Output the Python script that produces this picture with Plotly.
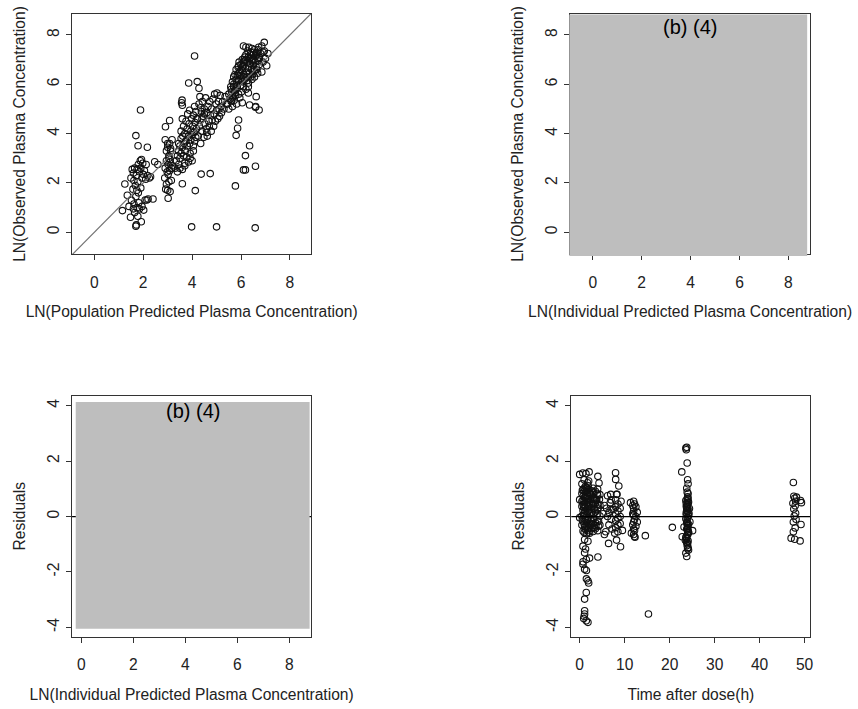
import plotly.graph_objects as go

# ---------------- Panel 1: LN(population predicted) vs LN(observed) ----------------
pred_a = [1.15,1.25,1.35,1.42,1.48,1.5,1.52,1.55,1.58,1.6,1.6,1.62,1.65,1.65,1.68,1.7,1.7,1.72,1.72,1.75,
          1.75,1.78,1.78,1.8,1.8,1.82,1.85,1.85,1.88,1.9,1.9,1.92,1.95,1.95,1.98,2.0,2.02,2.05,2.08,2.1,
          2.12,2.15,2.18,2.2,2.25,2.3,2.4,2.47,2.6,1.7,1.79,2.17,1.89,1.62,1.74,1.93]
obs_a = [0.88,1.96,1.5,1.05,0.61,2.2,1.3,2.55,1.75,0.95,2.4,1.15,2.6,0.8,1.9,0.25,1.45,2.3,0.3,1.0,
         2.55,2.05,0.65,1.6,2.75,1.2,2.45,0.95,2.9,1.8,2.6,0.43,2.2,1.05,2.8,2.35,0.9,2.5,1.31,2.15,
         2.75,1.31,2.3,1.35,2.2,2.25,1.35,2.86,2.75,3.92,3.51,3.45,4.96,2.1,1.7,2.95]

pred_b = [2.88,2.9,2.92,2.95,2.95,2.98,3.0,3.0,3.02,3.02,3.05,3.05,3.08,3.08,3.1,3.1,3.12,3.15,3.15,3.18,
          2.91,3.08,2.9,3.0,3.02,2.95,3.1,3.05,3.2,3.12]
obs_b = [2.2,2.6,1.75,2.9,3.3,2.45,1.7,3.45,1.38,2.75,2.05,3.1,2.5,3.6,1.65,2.85,3.3,2.6,2.1,3.75,
         4.28,4.53,3.75,3.6,2.35,1.95,2.95,3.0,2.7,3.4]

pred_c = [3.3,3.35,3.4,3.4,3.45,3.45,3.5,3.5,3.5,3.55,3.55,3.55,3.6,3.6,3.6,3.6,3.62,3.65,3.65,3.68,
          3.7,3.7,3.72,3.75,3.75,3.78,3.8,3.8,3.82,3.85,3.85,3.88,3.9,3.9,3.92,3.95,3.95,3.98,4.0,4.0,
          4.02,4.05,4.05,4.08,4.1,4.1,4.12,4.15,4.15,4.18,4.2,3.59,3.6,3.86,3.57,3.98,3.7,3.92,4.05,3.45]
obs_c = [2.6,2.9,3.1,2.45,3.3,2.75,3.5,3.0,2.6,3.8,3.2,4.1,2.55,3.45,4.6,5.15,3.9,3.1,4.3,3.6,
         2.8,4.0,3.3,4.5,3.7,3.05,4.2,3.5,4.8,3.9,2.85,4.4,3.6,4.95,3.2,4.1,3.75,4.6,2.9,3.95,
         4.3,3.5,4.75,4.05,5.1,3.7,4.45,3.85,4.9,4.2,4.6,5.36,1.97,6.05,5.25,0.22,2.7,3.0,3.3,3.6]

pred_d = [4.22,4.25,4.28,4.3,4.32,4.35,4.38,4.4,4.42,4.45,4.48,4.5,4.52,4.55,4.58,4.6,4.62,4.65,4.68,4.7,
          4.72,4.75,4.78,4.8,4.82,4.85,4.88,4.9,4.92,4.95,4.98,5.0,5.02,5.05,5.08,5.1,5.12,5.15,5.18,5.2,
          5.25,5.3,5.35,5.4,4.21,4.28,4.37,4.74,4.13,4.4,4.6,5.0,4.35,4.5]
obs_d = [4.6,3.9,5.2,4.3,5.5,3.6,4.9,4.1,5.3,4.7,3.85,5.0,4.4,5.45,4.2,4.85,3.9,5.1,4.5,4.3,
         5.3,4.75,4.1,5.0,4.55,5.4,4.3,4.8,5.6,4.5,5.2,4.95,5.65,4.6,5.3,5.0,4.7,5.55,5.1,4.85,
         5.3,5.0,5.5,5.2,6.11,5.84,2.36,2.38,1.69,4.6,4.05,0.22,5.05,4.8]

pred_e = [5.45,5.5,5.5,5.55,5.58,5.6,5.62,5.65,5.65,5.68,5.7,5.7,5.72,5.75,5.75,5.78,5.8,5.8,5.82,5.85,
          5.85,5.88,5.9,5.9,5.92,5.95,5.95,5.98,6.0,6.0,6.02,6.05,6.05,6.08,6.1,6.1,6.12,6.15,6.15,6.18,
          6.2,6.2,6.22,6.25,6.25,6.28,6.3,6.3,6.32,6.35,6.35,6.38,6.4,6.4,6.42,6.45,6.45,6.48,6.5,6.5,
          6.52,6.55,6.55,6.58,6.6,6.62,6.65,6.68,6.7,6.72,6.75,6.8,6.85,6.9,6.95,7.0,7.05,7.1,6.1,6.2,
          6.05,6.3,6.45,6.6,6.85,6.95,
          5.6,5.7,5.8,5.9,6.0,6.1,6.2,6.3,6.4,6.5,6.6,6.7,5.75,5.85,5.95,6.05,6.15,6.25,6.35,6.45,
          6.55,6.65,6.75,5.65,5.9,6.1,6.3,6.5,6.7,6.9]
obs_e = [5.2,5.6,5.0,5.4,5.9,5.3,5.7,5.1,6.1,5.5,5.9,6.3,5.35,5.75,6.4,5.55,6.0,6.6,5.2,5.85,
         6.35,6.7,5.6,6.15,6.9,5.45,6.5,5.95,6.25,6.8,5.7,6.55,7.0,6.1,5.9,6.75,6.4,7.1,6.2,6.65,
         5.8,7.2,6.5,6.9,6.3,7.35,6.05,6.7,7.5,6.45,7.05,6.85,6.3,7.3,6.6,7.45,6.95,6.4,7.2,6.75,
         7.0,6.55,7.4,6.9,7.15,6.7,7.3,6.45,7.05,7.5,6.8,7.25,7.55,6.9,7.35,7.05,6.75,7.25,7.55,7.5,
         5.25,5.65,6.2,5.1,6.5,7.7,
         5.8,6.0,6.2,6.45,6.6,6.9,7.0,7.1,7.2,7.3,7.25,7.4,5.65,5.95,6.35,6.7,6.95,6.15,6.85,7.0,
         6.3,6.6,7.1,5.45,6.75,6.3,5.9,6.6,6.95,7.3]

pred_out = [5.77,6.1,6.18,6.59,6.18,6.35,5.8,5.86,5.9,6.35,6.59,6.74,6.62,6.58,4.1]
obs_out = [1.88,2.53,2.53,2.68,3.11,3.51,3.93,4.22,4.55,5.16,5.07,4.96,5.5,0.18,7.15]

# ---------------- Panel 4: time after dose vs residuals ----------------
time_g1 = [0.0,0.0,0.0,0.7,2.1,4.05,4.3,1.1,1.84,0.73,
           1.1,4.06,1.47,0.73,1.1,1.84,1.47,1.1,1.1,1.1,
           1.47,1.84,0.9,1.5,2.2,1.3,0.75,1.5,2.0,1.0,
           0.5,0.5,0.5,0.5,0.5,0.75,0.75,0.75,0.75,0.75,
           1.0,1.0,1.0,1.0,1.0,1.0,1.25,1.25,1.25,1.25,
           1.25,1.5,1.5,1.5,1.5,1.5,1.5,1.75,1.75,1.75,
           1.75,1.75,1.75,2.0,2.0,2.0,2.0,2.0,2.0,2.0,
           2.5,2.5,2.5,2.5,2.5,3.0,3.0,3.0,3.0,3.0,
           3.0,3.5,3.5,3.5,3.5,3.5,4.0,4.0,4.0,4.0,
           4.0,4.0,4.5,4.5,4.5,4.5,1.2,1.8,2.2,0.9,
           1.6,2.3,3.2,3.8,1.1,2.7,1.4,2.2,4.2,0.6,
           0.5,0.6,0.8,0.9,1.0,1.1,1.2,1.3,1.4,1.6,
           1.7,1.9,2.0,2.1,2.3,2.4,2.6,2.8,2.9,3.1,
           3.3,3.4,3.6,3.7,3.9,4.1,4.2,4.4,1.0,1.5,
           2.0,2.5,3.0,3.5,4.0,1.25,1.75,2.25,0.75,3.25]
res_g1 = [1.52,0.61,-0.04,1.57,1.61,1.45,1.21,-0.83,-0.89,-1.07,
          -1.31,-1.46,-1.55,-1.72,-1.9,-2.32,-2.74,-2.98,-3.4,-3.52,
          -3.76,-3.82,-3.68,-2.25,-1.5,-1.17,-1.63,-1.95,-2.4,-3.6,
          1.18,0.83,0.37,0.02,-0.31,0.97,0.58,0.22,-0.17,-0.52,
          1.33,0.91,0.56,0.12,-0.27,-0.58,1.08,0.69,0.33,-0.11,
          -0.46,1.04,0.73,0.47,0.08,-0.21,-0.62,1.22,0.86,0.51,
          0.18,-0.14,-0.49,1.28,0.98,0.64,0.36,-0.03,-0.32,-0.56,
          0.93,0.62,0.27,-0.12,-0.41,1.02,0.68,0.42,0.06,-0.26,
          -0.54,0.91,0.48,0.16,-0.22,-0.44,0.99,0.77,0.43,0.11,
          -0.19,-0.51,0.79,0.41,0.02,-0.31,0.35,0.6,0.85,0.05,
          -0.35,0.45,0.3,0.6,0.7,0.15,1.55,-0.6,-0.35,0.95,
          0.55,-0.12,0.74,0.33,1.02,-0.38,0.21,0.88,-0.05,0.64,
          0.29,1.11,-0.42,0.52,0.13,0.81,-0.27,0.47,0.92,-0.09,
          0.66,0.24,-0.33,0.58,0.83,0.31,-0.16,0.62,0.41,0.92,
          0.21,0.77,0.87,0.62,0.27,-0.35,0.4,-0.25,0.44,-0.4]

time_g2 = [5.5,5.8,6.43,6.9,7.0,7.98,8.0,8.7,8.3,8.2,9.08,9.5,6.0,6.2,6.5,6.5,7.0,7.0,7.2,6.8,
           8.0,8.0,8.0,8.0,8.0,8.5,8.5,8.5,8.5,8.5,9.0,9.0,9.0,5.5,6.2,7.5,5.2,8.2,7.8,9.2]
res_g2 = [-0.65,-0.55,-0.97,0.8,0.6,1.58,1.34,1.10,0.8,-0.85,-1.09,-0.5,0.3,0.0,0.15,-0.3,0.25,-0.1,-0.45,0.5,
          0.6,0.35,0.1,-0.15,-0.4,0.45,0.2,-0.05,-0.3,-0.55,0.3,0.0,-0.25,0.4,0.75,0.25,0.1,0.8,-0.6,0.55]

time_g3 = [11.3,11.8,11.8,11.8,12.0,12.0,12.0,12.0,12.0,12.0,12.0,12.2,12.2,12.2,12.2,12.5,12.5,12.5,12.8,12.8,
           11.5,12.3,14.6,15.29,20.6]
res_g3 = [0.5,0.4,0.1,-0.3,0.55,0.3,0.05,-0.2,-0.45,-0.65,0.2,0.45,-0.1,-0.5,-0.72,0.35,0.0,-0.35,0.15,-0.2,
          -0.6,-0.75,-0.69,-3.52,-0.39]

time_g4 = [23.6,23.7,23.8,22.7,23.9,24.0,24.1,23.8,23.9,24.0,24.1,24.2,23.7,23.8,23.9,24.0,24.1,24.2,23.6,23.8,
           23.9,24.0,24.1,24.2,23.7,23.8,23.9,24.0,24.1,24.2,23.6,23.8,23.9,24.0,24.1,23.7,23.9,24.0,24.2,23.6,
           23.8,24.0,24.1,23.7,23.9,24.0,25.1,24.5,22.8,23.5,24.3,23.6,24.0,24.4,23.2,
           23.8,24.0,24.1,23.9,23.7,24.2,24.0,23.8,24.1,23.9]
res_g4 = [2.47,2.41,2.5,1.61,1.93,1.33,1.18,1.02,0.88,0.71,0.66,0.52,0.47,0.38,0.31,0.18,0.12,0.03,-0.08,-0.22,
          -0.27,-0.41,-0.53,-0.58,-0.72,-0.79,-0.93,-0.98,-1.12,-1.21,-1.32,-1.44,0.63,0.43,0.27,0.07,-0.16,-0.33,-0.57,-0.76,
          -0.94,-1.16,0.83,0.36,-0.04,-0.47,-0.51,-0.19,-0.73,-0.86,0.11,0.58,-0.66,0.29,-0.38,
          0.22,-0.63,0.49,-1.05,0.14,-0.28,0.57,-0.45,-0.88,0.35]

time_g5 = [47.5,47.6,47.8,48.0,47.4,47.9,47.6,49.1,49.3,47.5,47.9,49.2,47.0,47.8,49.0,48.0,47.7,48.1,47.5,48.2]
res_g5 = [1.23,0.73,0.66,0.55,0.48,0.39,0.27,0.58,0.5,-0.2,-0.41,-0.29,-0.78,-0.82,-0.88,0.12,0.02,-0.1,-0.55,0.7]

# ---------------- texts ----------------
x_title_1 = "LN(Population Predicted Plasma Concentration)"
x_title_2 = "LN(Individual Predicted Plasma Concentration)"
x_title_3 = "LN(Individual Predicted Plasma Concentration)"
x_title_4 = "Time after dose(h)"
y_title_obs = "LN(Observed Plasma Concentration)"
y_title_res = "Residuals"
redacted_label = "(b) (4)"

conc_ticks = [0, 2, 4, 6, 8]
res_ticks = [-4, -2, 0, 2, 4]
time_ticks = [0, 10, 20, 30, 40, 50]

# ---------------- layout helpers ----------------
W, H = 858, 709
FONT = "Liberation Sans, Arial, sans-serif"
FS = 15.6
TXT = "#222222"
LINE = "#333333"


def fx(p):
    return p / W


def fy(p):
    return 1 - p / H


def axis(domain, rng, ticks, title, is_y):
    d = dict(
        domain=domain, range=rng, tickvals=ticks, ticktext=[str(t) for t in ticks],
        showline=True, mirror=True, linecolor=LINE, linewidth=1,
        ticks="outside", ticklen=5, tickwidth=1, tickcolor=LINE,
        showgrid=False, zeroline=False, fixedrange=True,
        tickfont=dict(family=FONT, size=FS, color=TXT),
        title=dict(text=title, font=dict(family=FONT, size=FS, color=TXT)),
    )
    if is_y:
        d["tickangle"] = -90
        d["ticklabelstandoff"] = 1
        d["title"]["standoff"] = 15
    else:
        d["ticklabelstandoff"] = 9
        d["title"]["standoff"] = 16
    return d


def pts(x, y, xa, ya):
    return go.Scatter(
        x=x, y=y, xaxis=xa, yaxis=ya, mode="markers", hoverinfo="skip",
        marker=dict(symbol="circle-open", size=6.5, color="#111111", line=dict(width=1.1)),
    )


fig = go.Figure()

# panel 1
fig.add_trace(pts(pred_a + pred_b + pred_c + pred_d + pred_e + pred_out,
                  obs_a + obs_b + obs_c + obs_d + obs_e + obs_out, "x", "y"))
fig.add_trace(go.Scatter(x=[-5, 15], y=[-5, 15], xaxis="x", yaxis="y", mode="lines",
                         line=dict(color="#707070", width=1.2), hoverinfo="skip"))

# panel 2 (redacted)
fig.add_trace(go.Scatter(x=[None], y=[None], xaxis="x2", yaxis="y2", mode="markers"))

# panel 3 (redacted) with reference line
fig.add_trace(go.Scatter(x=[-5, 15], y=[0, 0], xaxis="x3", yaxis="y3", mode="lines",
                         line=dict(color="#000000", width=1.2), hoverinfo="skip"))

# panel 4
fig.add_trace(pts(time_g1 + time_g2 + time_g3 + time_g4 + time_g5,
                  res_g1 + res_g2 + res_g3 + res_g4 + res_g5, "x4", "y4"))
fig.add_trace(go.Scatter(x=[-10, 60], y=[0, 0], xaxis="x4", yaxis="y4", mode="lines",
                         line=dict(color="#000000", width=1.2), hoverinfo="skip"))

top_dom = [fy(254), fy(14)]
bot_dom = [fy(636.5), fy(396)]

fig.update_layout(
    width=W, height=H, margin=dict(l=0, r=0, t=0, b=0),
    paper_bgcolor="white", plot_bgcolor="white", showlegend=False,
    font=dict(family=FONT, size=FS, color=TXT),
    xaxis=axis([fx(72.3), fx(312.3)], [-0.91, 8.87], conc_ticks, x_title_1, False),
    yaxis=axis(top_dom, [-0.88, 8.85], conc_ticks, y_title_obs, True),
    xaxis2=axis([fx(572.5), fx(812.5)], [-0.91, 8.87], conc_ticks, x_title_2, False),
    yaxis2=axis(top_dom, [-0.88, 8.85], conc_ticks, y_title_obs, True),
    xaxis3=axis([fx(72.3), fx(312.3)], [-0.36, 8.84], conc_ticks, x_title_3, False),
    yaxis3=axis(bot_dom, [-4.33, 4.35], res_ticks, y_title_res, True),
    xaxis4=axis([fx(573.3), fx(813.3)], [-1.86, 51.3], time_ticks, x_title_4, False),
    yaxis4=axis(bot_dom, [-4.33, 4.35], res_ticks, y_title_res, True),
)
for k, a in (("xaxis2", "y2"), ("xaxis3", "y3"), ("xaxis4", "y4")):
    fig.layout[k].anchor = a
for k, a in (("yaxis2", "x2"), ("yaxis3", "x3"), ("yaxis4", "x4")):
    fig.layout[k].anchor = a

GRAY = "#bebebe"
fig.add_shape(type="rect", xref="paper", yref="paper", layer="above",
              x0=fx(571.3), x1=fx(810), y0=fy(256), y1=fy(14.6),
              fillcolor=GRAY, line=dict(width=0))
fig.add_shape(type="rect", xref="paper", yref="paper", layer="above",
              x0=fx(76), x1=fx(310.7), y0=fy(628.7), y1=fy(402),
              fillcolor=GRAY, line=dict(width=0))

fig.add_annotation(text=redacted_label, xref="paper", yref="paper", x=fx(692), y=fy(26.5),
                   showarrow=False, xanchor="center", yanchor="middle",
                   font=dict(family=FONT, size=20, color="#000000"))
fig.add_annotation(text=redacted_label, xref="paper", yref="paper", x=fx(193.3), y=fy(411),
                   showarrow=False, xanchor="center", yanchor="middle",
                   font=dict(family=FONT, size=20, color="#000000"))

fig.write_html("out.html")
